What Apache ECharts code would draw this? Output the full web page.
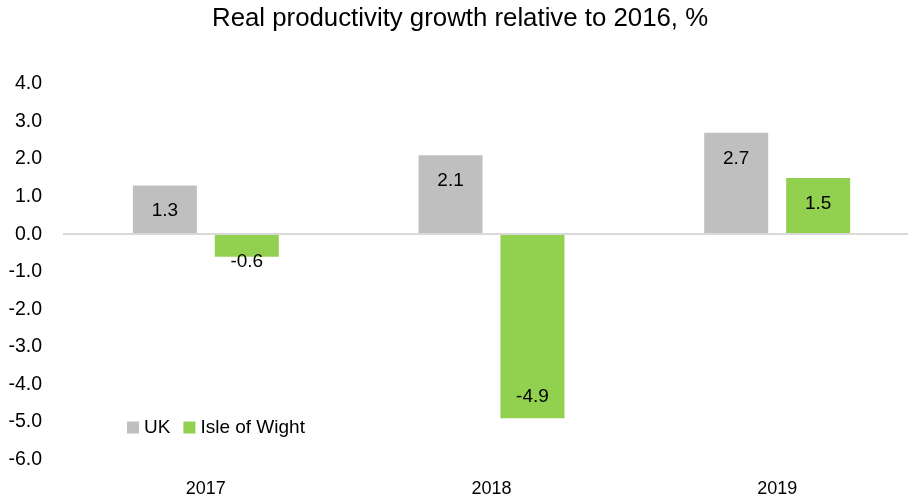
<!DOCTYPE html>
<html>
<head>
<meta charset="utf-8">
<script src="https://cdn.jsdelivr.net/npm/echarts@6/dist/echarts.min.js"></script>
<style>
html,body{margin:0;padding:0;background:#fff;}
#chart{width:908px;height:502px;}
</style>
</head>
<body>
<div id="chart"></div>
<script>
const titleText = 'Real productivity growth relative to 2016, %';
const categories = ['2017', '2018', '2019'];
const seriesNames = ['UK', 'Isle of Wight'];
const ukValues = [1.3, 2.1, 2.7];
const iowValues = [-0.6, -4.9, 1.5];
const yMin = -6, yMax = 4, yStep = 1;

const FONT = 'Arial, "Liberation Sans", sans-serif';

function labelFor(v) {
  const base = { show: true, color: '#000', fontSize: 19, fontFamily: FONT,
    formatter: p => p.value.toFixed(1) };
  if (v >= 0) return Object.assign(base, { position: 'insideTop', distance: 16 });
  if (Math.abs(v) < 1) return Object.assign(base, { position: 'bottom', distance: -4 });
  return Object.assign(base, { position: 'insideBottom', distance: 12 });
}
function items(arr) { return arr.map(v => ({ value: v, label: labelFor(v) })); }

const chart = echarts.init(document.getElementById('chart'), null, { renderer: 'canvas' });
chart.setOption({
  animation: false,
  backgroundColor: '#fff',
  title: {
    text: titleText, left: 207, top: 1,
    textStyle: { fontFamily: FONT, fontSize: 25.8, fontWeight: 'normal', color: '#000' }
  },
  legend: {
    left: 122, top: 413, itemWidth: 12, itemHeight: 12, itemGap: 13,
    icon: 'rect',
    textStyle: { fontFamily: FONT, fontSize: 19, color: '#000' },
    data: seriesNames
  },
  grid: { left: 63, top: 84, width: 857, bottom: 42.5, containLabel: false, outerBoundsMode: 'none' },
  xAxis: {
    type: 'category', data: categories,
    axisLine: { show: false }, axisTick: { show: false },
    axisLabel: { fontFamily: FONT, fontSize: 18, color: '#000', margin: 21 }
  },
  yAxis: {
    type: 'value', min: yMin, max: yMax, interval: yStep,
    axisLine: { show: false }, axisTick: { show: false }, splitLine: { show: false },
    axisLabel: { fontFamily: FONT, fontSize: 19.5, color: '#000', margin: 21,
      formatter: v => v.toFixed(1) }
  },
  series: [
    {
      name: seriesNames[0], type: 'bar', data: items(ukValues),
      barWidth: 64, barGap: '28%',
      itemStyle: { color: '#bfbfbf' },
      markLine: {
        silent: true, symbol: ['none', 'none'], label: { show: false },
        lineStyle: { color: '#d9d9d9', width: 2, type: 'solid' },
        data: [{ yAxis: 0 }]
      }
    },
    {
      name: seriesNames[1], type: 'bar', data: items(iowValues),
      barWidth: 64,
      itemStyle: { color: '#92d050' }
    }
  ]
});
</script>
</body>
</html>
